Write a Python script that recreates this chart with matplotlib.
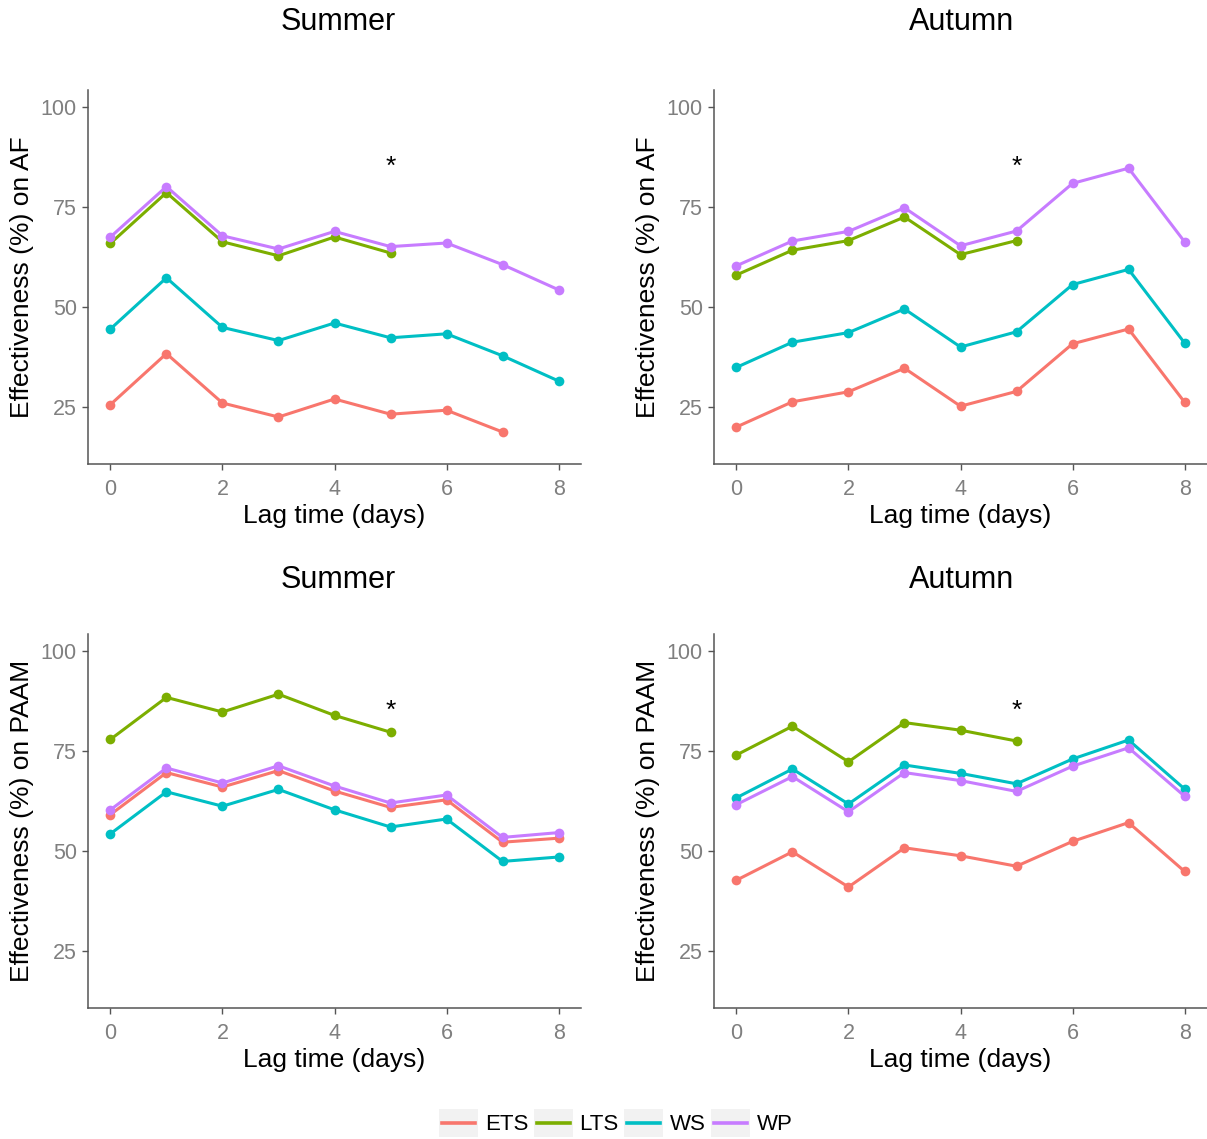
import matplotlib
matplotlib.use("Agg")
import matplotlib.pyplot as plt
from matplotlib.lines import Line2D
from matplotlib.patches import Rectangle

plt.rcParams['font.family'] = ['Liberation Sans', 'DejaVu Sans']

lags = [0, 1, 2, 3, 4, 5, 6, 7, 8]
series_names = ["ETS", "LTS", "WS", "WP"]
colors = {"ETS": "#F8766D", "LTS": "#7CAE00", "WS": "#00BFC4", "WP": "#C77CFF"}

# Summer, AF
summer_af_ets = [25.6, 38.35, 26.0, 22.5, 27.0, 23.2, 24.2, 18.75]
summer_af_lts = [65.9, 78.6, 66.3, 62.8, 67.5, 63.5]
summer_af_ws = [44.5, 57.3, 44.9, 41.6, 46.0, 42.3, 43.3, 37.8, 31.5]
summer_af_wp = [67.5, 80.1, 67.8, 64.5, 68.9, 65.1, 66.0, 60.6, 54.3]

# Autumn, AF
autumn_af_ets = [20.0, 26.3, 28.8, 34.7, 25.2, 28.9, 40.8, 44.5, 26.2]
autumn_af_lts = [58.0, 64.2, 66.6, 72.5, 63.1, 66.6]
autumn_af_ws = [34.9, 41.2, 43.6, 49.5, 40.0, 43.8, 55.6, 59.4, 41.0]
autumn_af_wp = [60.3, 66.5, 68.9, 74.8, 65.3, 69.0, 80.9, 84.7, 66.3]

# Summer, PAAM
summer_paam_ets = [59.1, 69.6, 66.0, 70.1, 65.0, 60.9, 62.8, 52.2, 53.2]
summer_paam_lts = [77.9, 88.4, 84.75, 89.2, 83.9, 79.7]
summer_paam_ws = [54.3, 64.8, 61.2, 65.4, 60.3, 56.0, 58.0, 47.4, 48.5]
summer_paam_wp = [60.3, 70.75, 67.0, 71.3, 66.25, 62.0, 64.0, 53.4, 54.6]

# Autumn, PAAM
autumn_paam_ets = [42.7, 49.8, 41.0, 50.8, 48.8, 46.2, 52.4, 57.1, 44.9]
autumn_paam_lts = [74.0, 81.2, 72.3, 82.1, 80.2, 77.5]
autumn_paam_ws = [63.3, 70.5, 61.75, 71.5, 69.4, 66.8, 73.0, 77.75, 65.5]
autumn_paam_wp = [61.6, 68.6, 59.8, 69.6, 67.6, 64.9, 71.2, 75.8, 63.7]

star_x = 5
star_y = 85

panels = [
    ("Summer", "Effectiveness (%) on AF",
     {"ETS": summer_af_ets, "LTS": summer_af_lts, "WS": summer_af_ws, "WP": summer_af_wp}),
    ("Autumn", "Effectiveness (%) on AF",
     {"ETS": autumn_af_ets, "LTS": autumn_af_lts, "WS": autumn_af_ws, "WP": autumn_af_wp}),
    ("Summer", "Effectiveness (%) on PAAM",
     {"ETS": summer_paam_ets, "LTS": summer_paam_lts, "WS": summer_paam_ws, "WP": summer_paam_wp}),
    ("Autumn", "Effectiveness (%) on PAAM",
     {"ETS": autumn_paam_ets, "LTS": autumn_paam_lts, "WS": autumn_paam_ws, "WP": autumn_paam_wp}),
]

W, H = 1207, 1139
fig = plt.figure(figsize=(W / 100, H / 100), dpi=100)

boxes = [
    (88, 90, 493, 374),
    (714, 90, 493, 374),
    (88, 634, 493, 374),
    (714, 634, 493, 374),
]
title_pos = [(338, 22), (962, 22), (338, 580), (962, 580)]

spine_col = "#555555"
tick_col = "#7F7F7F"

for (title, ylabel, data), (x0, y0, w, h), (tx, ty) in zip(panels, boxes, title_pos):
    ax = fig.add_axes([x0 / W, 1 - (y0 + h) / H, w / W, h / H])
    for name in series_names:
        vals = data[name]
        ax.plot(lags[:len(vals)], vals, color=colors[name], lw=2.2,
                marker="o", markersize=7, markeredgewidth=0, zorder=3)
    ax.text(star_x, star_y, "*", ha="center", va="center", fontsize=19, color="black")
    ax.set_xlim(-0.4, 8.4)
    ax.set_ylim(10.75, 104.25)
    ax.set_xticks([0, 2, 4, 6, 8])
    ax.set_yticks([25, 50, 75, 100])
    for s in ["top", "right"]:
        ax.spines[s].set_visible(False)
    for s in ["left", "bottom"]:
        ax.spines[s].set_color(spine_col)
        ax.spines[s].set_linewidth(1.1)
    ax.tick_params(axis="both", direction="out", length=4, width=1.0,
                   color=spine_col, labelcolor=tick_col, labelsize=15.5)
    ax.tick_params(axis="y", pad=4)
    ax.tick_params(axis="x", pad=7)
    ax.set_xlabel("Lag time (days)", fontsize=19, color="black", labelpad=3)
    ax.set_ylabel(ylabel, fontsize=19, color="black", labelpad=5)
    fig.text(tx / W, 1 - ty / H, title, ha="center", va="center", fontsize=22)


class KeyHandler:
    def __init__(self, color):
        self.color = color

    def legend_artist(self, legend, orig_handle, fontsize, handlebox):
        x0, y0 = -handlebox.xdescent, -handlebox.ydescent
        w, h = handlebox.width, handlebox.height
        tr = handlebox.get_transform()
        rect = Rectangle((x0, y0), w, h, facecolor="#F2F2F2", edgecolor="none", transform=tr)
        line = Line2D([x0 + w * 0.08, x0 + w * 0.92], [y0 + h / 2, y0 + h / 2],
                      color=self.color, lw=2.6, transform=tr)
        handlebox.add_artist(rect)
        handlebox.add_artist(line)
        return line


handles = [Line2D([], [], color=colors[n]) for n in series_names]
hmap = {hd: KeyHandler(colors[n]) for hd, n in zip(handles, series_names)}

fig.legend(handles, series_names, handler_map=hmap,
           loc="center", bbox_to_anchor=(616 / W, 1 - 1123 / H), ncol=4, frameon=False,
           fontsize=16, handlelength=1.75, handleheight=1.6, handletextpad=0.3,
           columnspacing=0.25, borderpad=0.0)

fig.savefig("out.png", dpi=100)
